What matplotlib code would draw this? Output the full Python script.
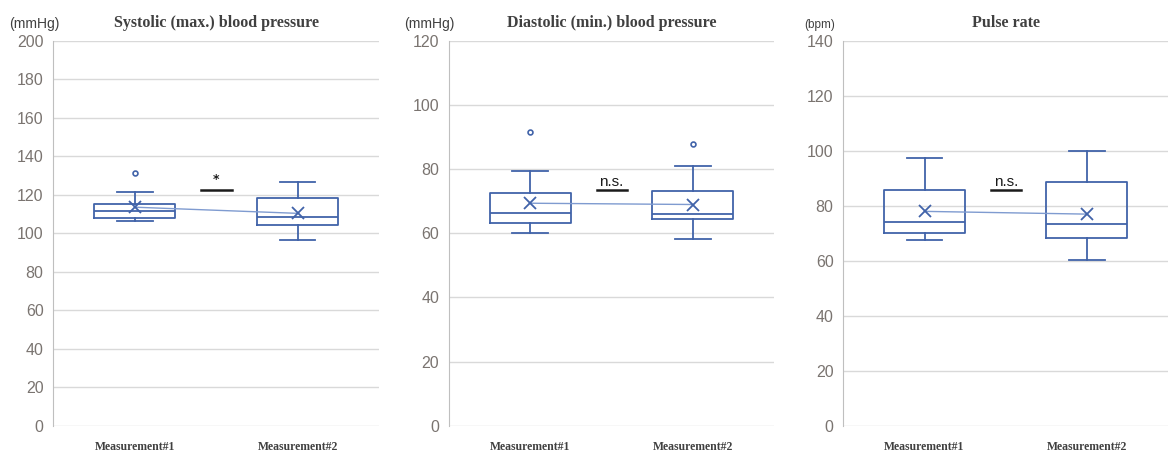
import matplotlib
matplotlib.use("Agg")
import matplotlib.pyplot as plt

# Summary statistics per measurement (two measurements per panel)
groups = ["Measurement#1", "Measurement#2"]

sys_whislo = [106.4, 96.4]
sys_q1 = [107.8, 104.2]
sys_med = [111.6, 108.5]
sys_q3 = [115.4, 118.4]
sys_whishi = [121.7, 126.6]
sys_mean = [113.6, 110.4]
sys_fliers = [[131.6], []]

dia_whislo = [60.0, 58.1]
dia_q1 = [63.2, 64.5]
dia_med = [66.3, 65.9]
dia_q3 = [72.7, 73.3]
dia_whishi = [79.4, 80.9]
dia_mean = [69.4, 69.0]
dia_fliers = [[91.5], [88.0]]

pul_whislo = [67.5, 60.4]
pul_q1 = [70.0, 68.2]
pul_med = [74.1, 73.3]
pul_q3 = [85.9, 88.8]
pul_whishi = [97.4, 100.0]
pul_mean = [78.0, 77.0]
pul_fliers = [[], []]

titles = ["Systolic (max.) blood pressure", "Diastolic (min.) blood pressure", "Pulse rate"]
units = ["(mmHg)", "(mmHg)", "(bpm)"]
y_max = [200, 120, 140]
sig_labels = ["*", "n.s.", "n.s."]
sig_levels = [122.4, 73.4, 85.7]

BOX = "#4163a9"
MEANLINE = "#7f9bd0"
GRID = "#d9d9d9"
TICK = "#7a7470"
TITLE = "#404040"

fig = plt.figure(figsize=(11.69, 4.54), dpi=100)
lefts = [0.0456, 0.3841, 0.7214]
widths = [0.2786, 0.278, 0.2778]
unit_x = [0.0175, 0.018, -0.025]
unit_size = [10, 10, 8.5]

panels = [
    (sys_whislo, sys_q1, sys_med, sys_q3, sys_whishi, sys_mean, sys_fliers),
    (dia_whislo, dia_q1, dia_med, dia_q3, dia_whishi, dia_mean, dia_fliers),
    (pul_whislo, pul_q1, pul_med, pul_q3, pul_whishi, pul_mean, pul_fliers),
]

for i, (wlo, q1, med, q3, whi, mean, fl) in enumerate(panels):
    ax = fig.add_axes([lefts[i], 0.0623, widths[i], 0.8474])
    stats = []
    for k in range(2):
        stats.append(dict(whislo=wlo[k], q1=q1[k], med=med[k], q3=q3[k],
                          whishi=whi[k], mean=mean[k], fliers=fl[k], label=groups[k]))
    ax.bxp(stats, positions=[1, 2], widths=0.5, showmeans=False,
           boxprops=dict(color=BOX, linewidth=1.3),
           medianprops=dict(color=BOX, linewidth=1.3),
           whiskerprops=dict(color=BOX, linewidth=1.3),
           capprops=dict(color=BOX, linewidth=1.3),
           flierprops=dict(marker="o", markersize=3.5, markerfacecolor="white",
                           markeredgecolor=BOX, markeredgewidth=1.2),
           capwidths=0.22)
    ax.plot([1, 2], mean, color=MEANLINE, linewidth=1.0, zorder=3)
    ax.plot([1, 2], mean, linestyle="none", marker="x", markersize=8,
            color=BOX, markeredgewidth=1.3, zorder=4)

    # significance marker between the two boxes
    ax.plot([1.41, 1.595], [sig_levels[i]] * 2, color="#1a1a1a", linewidth=1.8, zorder=4)
    if sig_labels[i] == "*":
        ax.text(1.5, sig_levels[i] + y_max[i] * 0.012, "*", ha="center", va="bottom",
                fontsize=9, color="#1a1a1a", fontweight="bold", family="DejaVu Sans")
    else:
        ax.text(1.5, sig_levels[i] + y_max[i] * 0.004, "n.s.", ha="center", va="bottom",
                fontsize=11, color="#1a1a1a", family="Liberation Sans")

    ax.set_xlim(0.5, 2.5)
    ax.set_ylim(0, y_max[i])
    ax.set_yticks(range(0, y_max[i] + 1, 20))
    ax.yaxis.grid(True, color=GRID, linewidth=1.0)
    ax.set_axisbelow(True)
    for s in ["top", "right", "bottom"]:
        ax.spines[s].set_visible(False)
    ax.spines["left"].set_color("#bfbfbf")
    ax.tick_params(axis="y", length=0, pad=7, labelcolor=TICK, labelsize=11.5)
    for lab in ax.get_yticklabels():
        lab.set_family("Liberation Sans")
    ax.tick_params(axis="x", length=0, pad=11)
    ax.set_xticks([1, 2])
    ax.set_xticklabels(groups, family="Liberation Serif", fontweight="bold",
                       fontsize=8.5, color=TITLE)
    ax.set_title(titles[i], family="Liberation Serif", fontweight="bold",
                 fontsize=11.5, color=TITLE, pad=10)
    ax.text(unit_x[i], 1.025, units[i], transform=ax.transAxes,
            ha="right", va="bottom", fontsize=unit_size[i],
            color="#404040", family="Liberation Sans")

fig.savefig("out.png", dpi=100)
